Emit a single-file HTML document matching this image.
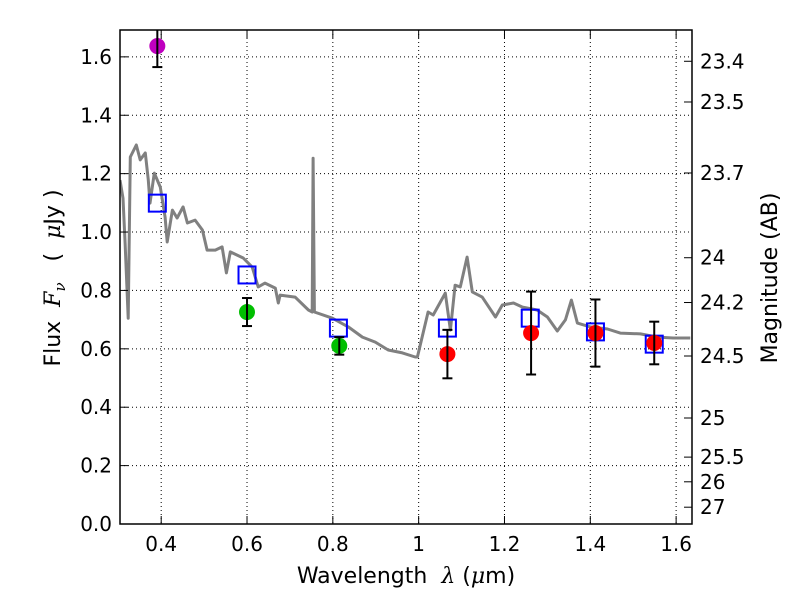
<!DOCTYPE html>
<html><head><meta charset="utf-8"><style>
html,body{margin:0;padding:0;background:#fff;overflow:hidden;}
svg{display:block;}
text{font-family:"DejaVu Sans","Liberation Sans",sans-serif;}
</style></head><body>
<svg id="c" width="800" height="600" xmlns="http://www.w3.org/2000/svg">
<text x="406" y="583" font-size="22" text-anchor="middle" xml:space="preserve">Wavelength  <tspan font-style="italic" font-family="DejaVu Serif, serif">λ</tspan> (<tspan font-style="italic" font-family="DejaVu Serif, serif">μ</tspan>m)</text>
<text transform="translate(60,278) rotate(-90)" font-size="22" text-anchor="middle" xml:space="preserve">Flux  <tspan font-style="italic" font-family="DejaVu Serif, serif">F</tspan><tspan font-style="italic" font-size="15" dy="5" font-family="DejaVu Serif, serif">ν</tspan><tspan dy="-5">   (  </tspan><tspan font-style="italic" font-family="DejaVu Serif, serif">μ</tspan>Jy )</text>
<text transform="translate(777,278) rotate(-90)" font-size="22" text-anchor="middle">Magnitude (AB)</text>
</svg>
<script>
const specLam=[0.304,0.311,0.316,0.323,0.328,0.342,0.351,0.363,0.370,0.374,0.384,0.398,0.409,0.414,0.426,0.437,0.451,0.461,0.479,0.496,0.507,0.526,0.542,0.552,0.561,0.591,0.612,0.626,0.642,0.666,0.673,0.677,0.712,0.743,0.752,0.754,0.757,0.799,0.836,0.869,0.899,0.929,0.962,0.992,0.997,1.022,1.034,1.062,1.074,1.085,1.097,1.113,1.125,1.148,1.179,1.195,1.221,1.242,1.276,1.300,1.323,1.342,1.356,1.370,1.400,1.440,1.470,1.517,1.556,1.593,1.633];
const specFlux=[1.178,1.116,0.962,0.705,1.257,1.298,1.247,1.271,1.178,1.099,1.202,1.154,1.051,0.966,1.075,1.048,1.086,1.031,1.041,1.007,0.938,0.938,0.949,0.860,0.932,0.911,0.880,0.812,0.825,0.808,0.757,0.784,0.777,0.733,0.726,1.253,0.726,0.705,0.675,0.640,0.623,0.596,0.586,0.572,0.572,0.726,0.716,0.791,0.664,0.818,0.812,0.914,0.795,0.777,0.709,0.750,0.757,0.743,0.733,0.709,0.661,0.699,0.767,0.688,0.675,0.668,0.654,0.651,0.640,0.637,0.637];
const modelLam=[0.391,0.600,0.813,1.067,1.260,1.412,1.549];
const modelFlux=[1.099,0.853,0.671,0.671,0.705,0.658,0.616];
const obsLam=[0.391,0.600,0.815,1.067,1.262,1.412,1.549];
const obsFlux=[1.637,0.726,0.610,0.582,0.654,0.654,0.620];
const obsErr=[0.072,0.048,0.030,0.083,0.142,0.115,0.073];
const obsColor=['#bf00bf','#00bf00','#00bf00','#ff0000','#ff0000','#ff0000','#ff0000'];
const xTicks=[0.4,0.6,0.8,1,1.2,1.4,1.6];
const xTickLabels=['0.4','0.6','0.8','1','1.2','1.4','1.6'];
const yTicks=[0,0.2,0.4,0.6,0.8,1.0,1.2,1.4,1.6];
const magTicks=[23.4,23.5,23.7,24,24.2,24.5,25,25.5,26,27];

const L=120,R=692,T=30,B=524,xmin=0.304,xmax=1.637,ymin=0,ymax=1.692;
const X=v=>L+(v-xmin)/(xmax-xmin)*(R-L);
const Y=v=>B-(v-ymin)/(ymax-ymin)*(B-T);
const svg=document.getElementById('c');
const NS='http://www.w3.org/2000/svg';
function mk(tag,at,parent){const e=document.createElementNS(NS,tag);for(const k in at)e.setAttribute(k,at[k]);(parent||svg).appendChild(e);return e;}
const defs=mk('defs',{});const cp=mk('clipPath',{id:'pc'},defs);mk('rect',{x:L,y:T,width:R-L,height:B-T},cp);

xTicks.forEach(t=>{const g=mk('line',{x1:X(t),x2:X(t),y1:T,y2:B,stroke:'#000','stroke-width':1,'stroke-dasharray':'1,3'});

});
yTicks.forEach(t=>{const g=mk('line',{x1:L,x2:R,y1:Y(t),y2:Y(t),stroke:'#000','stroke-width':1,'stroke-dasharray':'1,3'});

});

let d=specLam.map((l,i)=>(i?'L':'M')+X(l).toFixed(1)+','+Y(specFlux[i]).toFixed(1)).join('');
const sp=mk('path',{d:d,fill:'none',stroke:'#808080','stroke-width':3,'stroke-linejoin':'round','clip-path':'url(#pc)'});



modelLam.forEach((l,i)=>{const r=mk('rect',{x:X(l)-8.5,y:Y(modelFlux[i])-8.5,width:17,height:17,fill:'none',stroke:'#0000ff','stroke-width':2});

});

obsLam.forEach((l,i)=>{const g=mk('g',{'clip-path':'url(#pc)'});


mk('circle',{cx:X(l),cy:Y(obsFlux[i]),r:8,fill:obsColor[i]},g);
const y1=Y(obsFlux[i]+obsErr[i]),y2=Y(obsFlux[i]-obsErr[i]),x=X(l);
mk('line',{x1:x,x2:x,y1:y1,y2:y2,stroke:'#000','stroke-width':2},g);
mk('line',{x1:x-5,x2:x+5,y1:y1,y2:y1,stroke:'#000','stroke-width':2},g);
mk('line',{x1:x-5,x2:x+5,y1:y2,y2:y2,stroke:'#000','stroke-width':2},g);});

const fr=mk('rect',{x:L,y:T,width:R-L,height:B-T,fill:'none',stroke:'#000','stroke-width':1.5});



xTicks.forEach((t,i)=>{mk('line',{x1:X(t),x2:X(t),y1:B,y2:B-8,stroke:'#000'});mk('line',{x1:X(t),x2:X(t),y1:T,y2:T+8,stroke:'#000'});
const tx=mk('text',{x:X(t),y:B+27,'font-size':20,'text-anchor':'middle'});tx.textContent=xTickLabels[i];

});
yTicks.forEach(t=>{mk('line',{x1:L,x2:L+8,y1:Y(t),y2:Y(t),stroke:'#000'});
const tx=mk('text',{x:L-8,y:Y(t)+7,'font-size':20,'text-anchor':'end'});tx.textContent=t.toFixed(1);

});
magTicks.forEach(m=>{const f=Math.pow(10,(23.9-m)/2.5);const y=Y(f);
mk('line',{x1:R,x2:R-8,y1:y,y2:y,stroke:'#000'});
const tx=mk('text',{x:R+8,y:y+7,'font-size':20});tx.textContent=String(m);

});
</script>
</body></html>
